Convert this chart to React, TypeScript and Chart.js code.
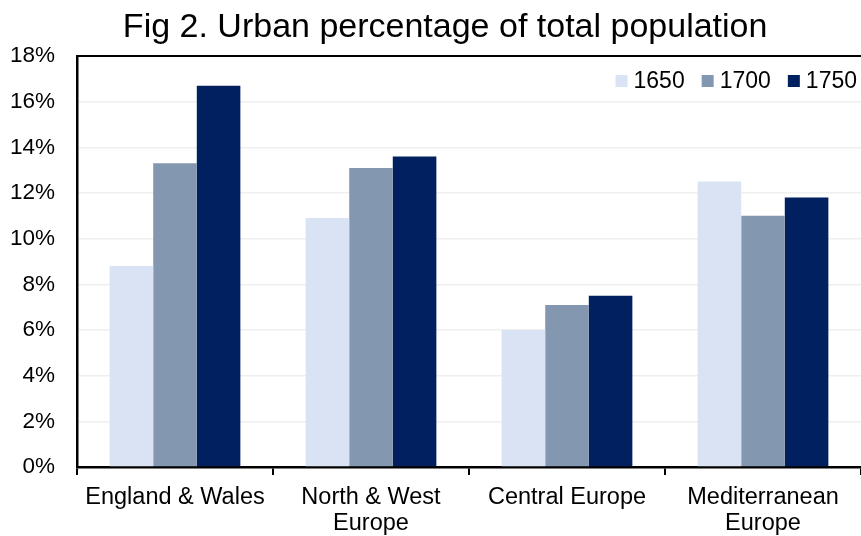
import { useEffect, useRef } from "react";
import { Chart, registerables } from "chart.js";

Chart.register(...registerables);

const TITLE = "Fig 2. Urban percentage of total population";
const CATEGORIES: string[][] = [
  ["England & Wales"],
  ["North & West", "Europe"],
  ["Central Europe"],
  ["Mediterranean", "Europe"],
];
const SERIES_LABELS = ["1650", "1700", "1750"];
const VALUES_1650 = [8.8, 10.9, 6.0, 12.5];
const VALUES_1700 = [13.3, 13.1, 7.1, 11.0];
const VALUES_1750 = [16.7, 13.6, 7.5, 11.8];
const Y_TICKS = [0, 2, 4, 6, 8, 10, 12, 14, 16, 18];
const SERIES_COLORS = ["#dae3f3", "#8497b0", "#002060"];

const FAMILY = "'Liberation Sans', Arial, sans-serif";

const framePlugin = {
  id: "frame",
  afterDraw(chart: any) {
    const { ctx, chartArea } = chart;
    ctx.save();
    // top border of plot area
    ctx.strokeStyle = "#000";
    ctx.lineWidth = 2;
    ctx.beginPath();
    ctx.moveTo(chartArea.left - 1, chartArea.top);
    ctx.lineTo(chartArea.right, chartArea.top);
    ctx.stroke();

    // title
    ctx.fillStyle = "#000";
    ctx.font = `34px ${FAMILY}`;
    ctx.textAlign = "center";
    ctx.textBaseline = "alphabetic";
    ctx.fillText(TITLE, chart.width * 0.517, 37);

    // legend (top-right inside plot area)
    ctx.font = `23px ${FAMILY}`;
    ctx.textBaseline = "middle";
    ctx.textAlign = "left";
    const box = 12;
    const gap = 6;
    const spacing = 17;
    const ds = chart.data.datasets;
    const widths = ds.map((d: any) => box + gap + ctx.measureText(d.label).width);
    const total = widths.reduce((a: number, b: number) => a + b, 0) + spacing * (ds.length - 1);
    let x = chartArea.right - 4 - total;
    const cy = chartArea.top + 25;
    ds.forEach((d: any, i: number) => {
      ctx.fillStyle = d.backgroundColor;
      ctx.fillRect(x, cy - box / 2, box, box);
      ctx.fillStyle = "#000";
      ctx.fillText(d.label, x + box + gap, cy + 1);
      x += widths[i] + spacing;
    });
    ctx.restore();
  },
};

export default function App() {
  const ref = useRef<HTMLCanvasElement>(null);

  useEffect(() => {
    if (!ref.current) return;
    const seriesValues = [VALUES_1650, VALUES_1700, VALUES_1750];
    const chart = new Chart(ref.current, {
      type: "bar",
      data: {
        labels: CATEGORIES,
        datasets: SERIES_LABELS.map((label, i) => ({
          label,
          data: seriesValues[i],
          backgroundColor: SERIES_COLORS[i],
          borderWidth: 0,
          categoryPercentage: 0.667,
          barPercentage: 1,
        })),
      },
      options: {
        animation: false,
        responsive: true,
        maintainAspectRatio: false,
        layout: { padding: { top: 56, left: 0, right: 0, bottom: 0 } },
        plugins: {
          legend: { display: false },
          title: { display: false },
          tooltip: { enabled: false },
        },
        scales: {
          x: {
            afterFit: (axis: any) => {
              axis.height = 69;
            },
            grid: {
              display: true,
              drawOnChartArea: false,
              drawTicks: true,
              tickLength: 8,
              color: "#000",
              lineWidth: 2,
              offset: true,
            },
            border: { display: true, color: "#000", width: 2.5 },
            ticks: {
              color: "#000",
              font: { size: 23.5, family: FAMILY, lineHeight: 1.1 },
              padding: 10,
              maxRotation: 0,
              autoSkip: false,
            },
          },
          y: {
            min: 0,
            max: 18,
            afterFit: (axis: any) => {
              axis.width = 77;
            },
            afterBuildTicks: (axis: any) => {
              axis.ticks = Y_TICKS.map((v) => ({ value: v }));
            },
            ticks: {
              color: "#000",
              font: { size: 22.5, family: FAMILY },
              padding: 22,
              callback: (v: any) => `${v}%`,
            },
            grid: { color: "#efefef", lineWidth: 1.5, drawTicks: false },
            border: { display: true, color: "#000", width: 2.5 },
          },
        },
      },
      plugins: [framePlugin],
    });
    return () => chart.destroy();
  }, []);

  return (
    <div style={{ position: "fixed", left: 0, top: 0, width: 861, height: 536, background: "#fff" }}>
      <canvas ref={ref} />
    </div>
  );
}
